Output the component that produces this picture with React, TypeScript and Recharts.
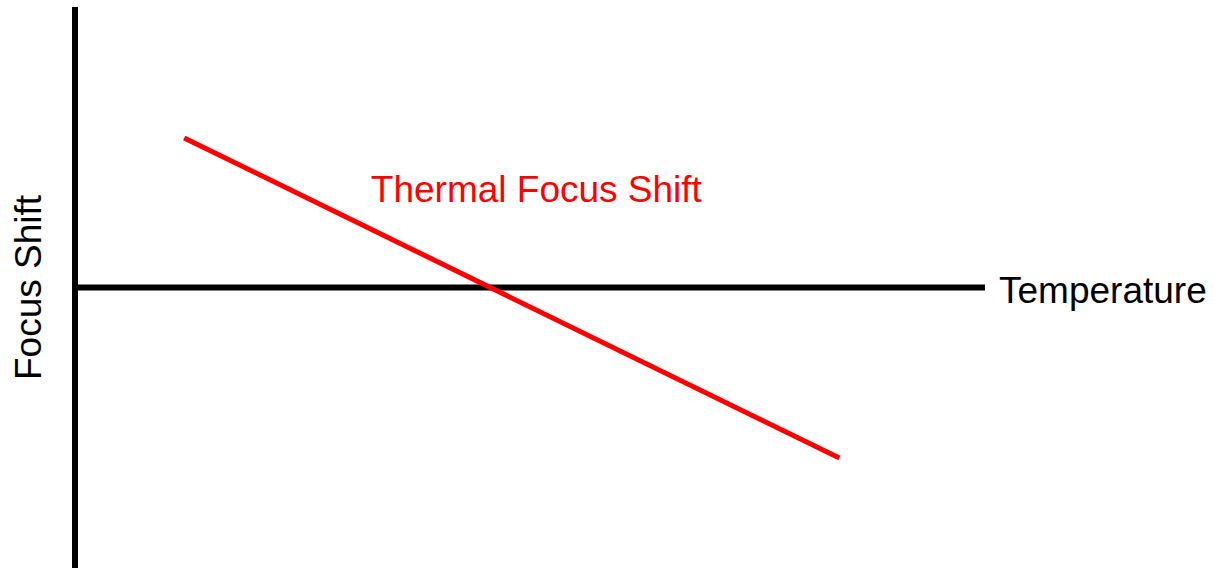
import { LineChart, Line, XAxis, YAxis, ReferenceLine, ReferenceDot } from "recharts"

// schematic: focus shift falls linearly with temperature
const temperature = [12, 84]
const focusShift = [0.533, -0.608]
const curveLabel = "Thermal Focus Shift"
const curveLabelAt = { temperature: 50.7, focusShift: 0.353 }
const xTitle = "Temperature"
const yTitle = "Focus Shift"

const data = temperature.map((t, i) => ({ temperature: t, focusShift: focusShift[i] }))

const font = "'Liberation Sans', Arial, sans-serif"

export default function App() {
  return (
    <div style={{ position: "absolute", left: 0, top: 0, background: "#fff" }}>
      <LineChart
        width={1215}
        height={568}
        data={data}
        margin={{ top: 7, right: 230, bottom: 0, left: 0 }}
        style={{ fontFamily: font }}
      >
        <XAxis dataKey="temperature" type="number" domain={[0, 100]} hide />
        <YAxis
          type="number"
          domain={[-1, 1]}
          width={75}
          tick={false}
          tickLine={false}
          axisLine={{ stroke: "#000", strokeWidth: 6 }}
          label={{
            value: yTitle,
            angle: -90,
            position: "center",
            dx: -9.5,
            fill: "#000",
            fontSize: 37,
          }}
        />
        <ReferenceLine
          y={0}
          stroke="#000"
          strokeWidth={6}
          label={{ value: xTitle, position: "right", offset: 14, dy: 2, fill: "#000", fontSize: 37 }}
        />
        <ReferenceDot
          x={curveLabelAt.temperature}
          y={curveLabelAt.focusShift}
          r={1}
          fill="none"
          stroke="none"
          label={{ value: curveLabel, position: "center", fill: "#ff0000", fontSize: 37 }}
        />
        <Line
          dataKey="focusShift"
          stroke="#ff0000"
          strokeWidth={5}
          dot={false}
          activeDot={false}
          isAnimationActive={false}
        />
      </LineChart>
    </div>
  )
}
